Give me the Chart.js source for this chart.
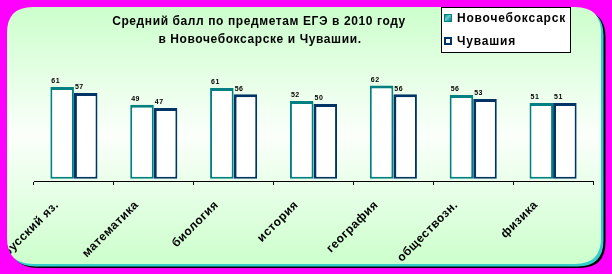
<!DOCTYPE html>
<html>
<head>
<meta charset="utf-8">
<script src="https://cdn.jsdelivr.net/npm/chart.js@4"></script>
<style>
html,body{margin:0;padding:0;background:#ff00ff;}
canvas{display:block;}
</style>
</head>
<body>
<canvas id="c" width="612" height="274"></canvas>
<script>
const categories = ['русский яз.','математика','биология','история','география','обществозн.','физика'];
const seriesNames = ['Новочебоксарск','Чувашия'];
const novocheboksarsk = [61.2, 49.3, 60.5, 51.9, 62.1, 55.9, 50.5];
const chuvashia = [57.2, 47.2, 56.3, 49.9, 56.3, 53.2, 50.5];
const titleLines = ['Средний балл по предметам ЕГЭ в 2010 году','в Новочебоксарске и Чувашии.'];

const TEAL = '#008080';
const NAVY = '#003366';
const PANEL = {x:7, y:7, w:594, h:257, r:26};

function rr(ctx, x, y, w, h, r){
  ctx.beginPath();
  ctx.moveTo(x+r, y);
  ctx.lineTo(x+w-r, y);
  ctx.quadraticCurveTo(x+w, y, x+w, y+r);
  ctx.lineTo(x+w, y+h-r);
  ctx.quadraticCurveTo(x+w, y+h, x+w-r, y+h);
  ctx.lineTo(x+r, y+h);
  ctx.quadraticCurveTo(x, y+h, x, y+h-r);
  ctx.lineTo(x, y+r);
  ctx.quadraticCurveTo(x, y, x+r, y);
  ctx.closePath();
}

const framePlugin = {
  id: 'frame',
  beforeDraw(chart){
    const ctx = chart.ctx;
    const p = PANEL;
    ctx.save();
    ctx.fillStyle = '#ff00ff';
    ctx.fillRect(0,0,chart.width,chart.height);
    ctx.fillStyle = '#000000';
    rr(ctx, p.x+4.5, p.y+4, p.w, p.h, p.r); ctx.fill();
    ctx.fillStyle = '#33cccc';
    rr(ctx, p.x+2.5, p.y+2.5, p.w, p.h, p.r); ctx.fill();
    const g = ctx.createLinearGradient(0, p.y, 0, p.y+p.h);
    g.addColorStop(0, '#ccffcc');
    g.addColorStop(0.5, '#fbfffb');
    g.addColorStop(1, '#ccffcc');
    ctx.fillStyle = g;
    rr(ctx, p.x, p.y, p.w, p.h, p.r); ctx.fill();
    rr(ctx, p.x, p.y, p.w, p.h, p.r); ctx.clip();
    ctx.letterSpacing = '0.5px';
  },
  afterDatasetsDraw(chart){
    const ctx = chart.ctx;
    ctx.save();
    ctx.font = 'bold 7px "Liberation Sans"';
    ctx.fillStyle = '#000';
    ctx.textAlign = 'left';
    ctx.textBaseline = 'bottom';
    chart.data.datasets.forEach((ds, i) => {
      chart.getDatasetMeta(i).data.forEach((bar, j) => {
        const left = bar.x - bar.width/2;
        ctx.fillText(String(Math.round(ds.data[j])), left + 1, bar.y - 2);
      });
    });
    ctx.restore();
  },
  afterDraw(chart){
    const ctx = chart.ctx;
    // title
    ctx.save();
    ctx.fillStyle = '#000';
    ctx.font = 'bold 12px "Liberation Sans"';
    ctx.letterSpacing = '0.6px';
    ctx.textAlign = 'center';
    ctx.textBaseline = 'middle';
    ctx.fillText(titleLines[0], 259, 22);
    ctx.fillText(titleLines[1], 260, 40);
    ctx.restore();
    // legend
    ctx.save();
    ctx.fillStyle = '#ffffff';
    ctx.fillRect(441, 7, 129, 45);
    ctx.strokeStyle = '#000';
    ctx.lineWidth = 1;
    ctx.strokeRect(441.5, 7.5, 129, 45);
    const mg = ctx.createLinearGradient(444, 14, 451, 21);
    mg.addColorStop(0, '#006666');
    mg.addColorStop(0.5, '#66cccc');
    mg.addColorStop(1, '#008080');
    ctx.fillStyle = mg;
    ctx.fillRect(444, 14, 8, 8);
    ctx.strokeStyle = TEAL;
    ctx.strokeRect(444.5, 14.5, 7, 7);
    ctx.fillStyle = '#fff';
    ctx.fillRect(444, 37, 8, 8);
    ctx.strokeStyle = NAVY;
    ctx.lineWidth = 2;
    ctx.strokeRect(445, 38, 6, 6);
    ctx.fillStyle = '#000';
    ctx.font = 'bold 12px "Liberation Sans"';
    ctx.letterSpacing = '0.8px';
    ctx.textAlign = 'left';
    ctx.textBaseline = 'middle';
    ctx.fillText(seriesNames[0], 457, 19);
    ctx.fillText(seriesNames[1], 457, 42);
    ctx.restore();
    ctx.restore();
  }
};

new Chart(document.getElementById('c'), {
  type: 'bar',
  data: {
    labels: categories,
    datasets: [
      {label: seriesNames[0], data: novocheboksarsk, backgroundColor: '#ffffff', borderColor: TEAL,
       borderWidth: {top:3,left:2,right:2,bottom:2}, borderSkipped: false},
      {label: seriesNames[1], data: chuvashia, backgroundColor: '#ffffff', borderColor: NAVY,
       borderWidth: {top:3,left:3,right:2,bottom:2}, borderSkipped: false}
    ]
  },
  options: {
    responsive: false,
    animation: false,
    devicePixelRatio: 1,
    layout: {padding: {left: 34, right: 19, top: 61, bottom: 0}},
    datasets: {bar: {categoryPercentage: 0.59, barPercentage: 1}},
    plugins: {legend: {display: false}, title: {display: false}, tooltip: {enabled: false}},
    scales: {
      x: {
        grid: {display: true, drawOnChartArea: false, drawTicks: true, tickLength: 4, color: '#000', offset: true},
        border: {display: true, color: '#000', width: 1},
        ticks: {
          autoSkip: false, maxRotation: 45, minRotation: 45, color: '#000',
          font: {family: 'Liberation Sans', weight: 'bold', size: 12},
          padding: 13, labelOffset: -17
        },
        afterFit(s){ s.height = 93; s.paddingLeft = 0; s.paddingRight = 0; }
      },
      y: {display: false, min: -1.5, max: 78.5}
    }
  },
  plugins: [framePlugin]
});
</script>
</body>
</html>
